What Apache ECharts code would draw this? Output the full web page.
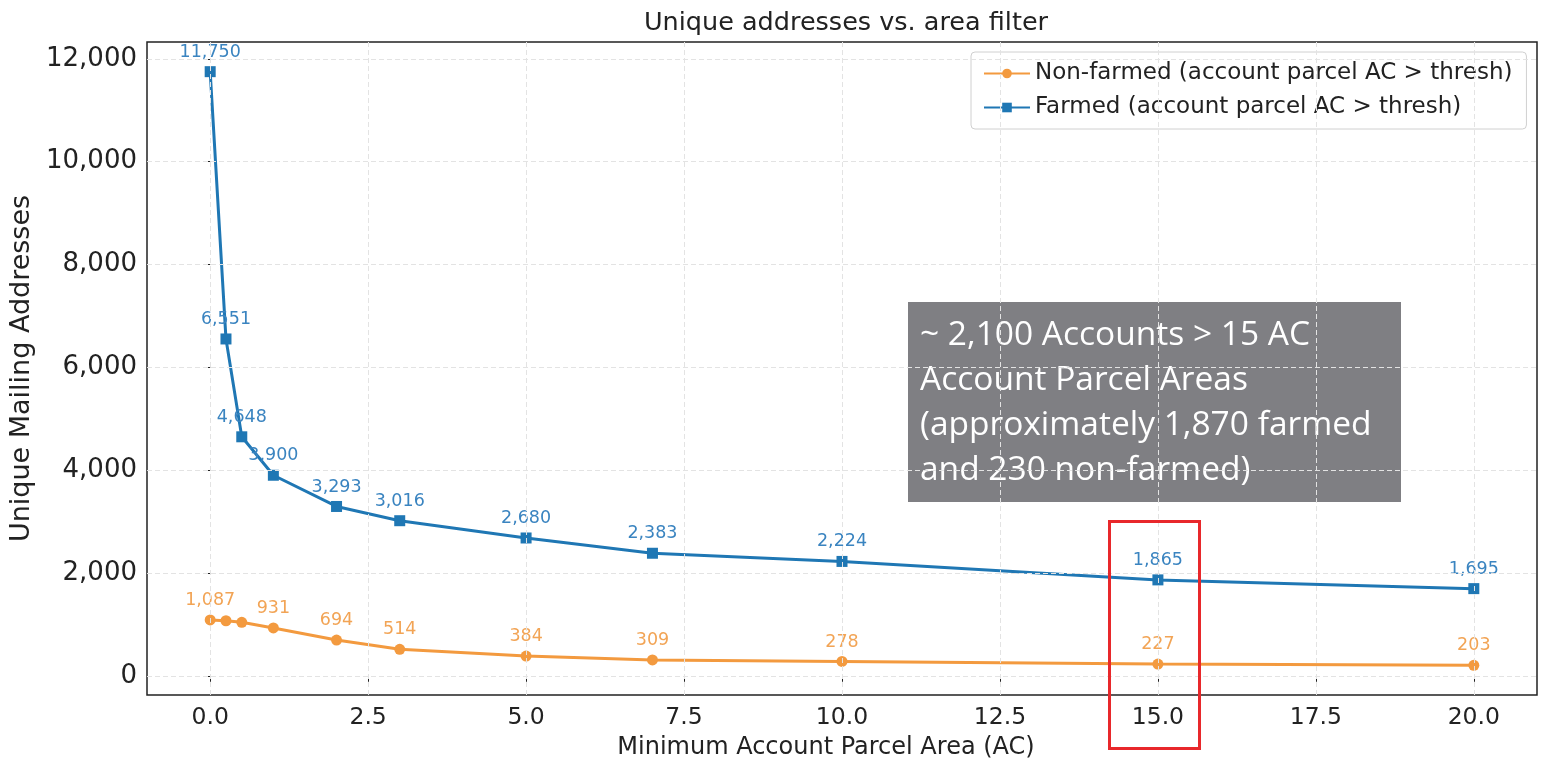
<!DOCTYPE html>
<html>
<head>
<meta charset="utf-8">
<title>Unique addresses vs. area filter</title>
<script src="https://cdn.jsdelivr.net/npm/echarts@6/dist/echarts.min.js"></script>
<style>
  html, body { margin: 0; padding: 0; background: #fff; }
  #chart { width: 1552px; height: 761px; }
</style>
</head>
<body>
<div id="chart"></div>
<script>
// data
const thresholds = [0, 0.25, 0.5, 1, 2, 3, 5, 7, 10, 15, 20]
const nonFarmed = [1087, 1070, 1040, 931, 694, 514, 384, 309, 278, 227, 203]
const farmed = [11750, 6551, 4648, 3900, 3293, 3016, 2680, 2383, 2224, 1865, 1695]
// points whose value label is not printed in the reference
const nonFarmedHiddenLabels = [0.25, 0.5]
const xTicks = [0, 2.5, 5, 7.5, 10, 12.5, 15, 17.5, 20]
const yTicks = [0, 2000, 4000, 6000, 8000, 10000, 12000]

const BLUE = '#1f77b4'
const ORANGE = '#f39a3f'
const FONT = 'DejaVu Sans'

const fmt = v => Math.round(v).toLocaleString('en-US')

const nonFarmedData = thresholds.map((x, i) => {
  const item = { value: [x, nonFarmed[i]] }
  if (nonFarmedHiddenLabels.includes(x)) item.label = { show: false }
  return item
})
const farmedData = thresholds.map((x, i) => [x, farmed[i]])

const option = {
  animation: false,
  backgroundColor: '#fff',
  title: {
    text: 'Unique addresses vs. area filter',
    left: 841,
    textAlign: 'center',
    top: 5,
    textStyle: { fontFamily: FONT, fontSize: 25.5, fontWeight: 'normal', color: '#222' },
  },
  grid: {
    left: 147,
    right: 15,
    top: 42,
    bottom: 66,
    outerBoundsMode: 'none',
    show: true,
    borderColor: '#222',
    borderWidth: 1.5,
    backgroundColor: 'transparent',
  },
  legend: {
    orient: 'vertical',
    left: 971,
    top: 52,
    width: 554,
    padding: [10, 14, 10, 12],
    itemGap: 11,
    itemWidth: 46,
    itemHeight: 12,
    backgroundColor: '#fff',
    borderColor: '#d0d0d0',
    borderWidth: 1,
    borderRadius: 4,
    textStyle: { fontFamily: FONT, fontSize: 23, color: '#222' },
    data: ['Non-farmed (account parcel AC > thresh)', 'Farmed (account parcel AC > thresh)'],
  },
  xAxis: {
    type: 'value',
    min: -1,
    max: 21,
    name: 'Minimum Account Parcel Area (AC)',
    nameLocation: 'middle',
    nameGap: 41,
    nameTextStyle: { fontFamily: FONT, fontSize: 24, color: '#222', padding: [0, 32, 0, 0] },
    axisLine: { show: false },
    axisTick: { show: true, length: 6, customValues: xTicks, lineStyle: { color: '#222' } },
    axisLabel: {
      customValues: xTicks,
      margin: 11,
      fontFamily: FONT,
      fontSize: 23.5,
      color: '#222',
      formatter: v => v.toFixed(1),
    },
    splitLine: { show: false },
  },
  yAxis: {
    type: 'value',
    min: -374,
    max: 12327,
    name: 'Unique Mailing Addresses',
    nameLocation: 'middle',
    nameGap: 103,
    nameTextStyle: { fontFamily: FONT, fontSize: 27, color: '#222' },
    axisLine: { show: false },
    axisTick: { show: true, length: 6, customValues: yTicks, lineStyle: { color: '#222' } },
    axisLabel: {
      customValues: yTicks,
      margin: 10,
      fontFamily: FONT,
      fontSize: 26,
      color: '#222',
      formatter: v => fmt(v),
    },
    splitLine: { show: false },
  },
  series: [
    {
      // grid lines drawn at the tick positions
      name: 'grid',
      type: 'line',
      data: [],
      silent: true,
      markLine: {
        silent: true,
        symbol: 'none',
        label: { show: false },
        lineStyle: { color: '#e3e3e3', type: [5, 3], width: 1 },
        data: xTicks.map(x => ({ xAxis: x })).concat(yTicks.map(y => ({ yAxis: y }))),
      },
    },
    {
      name: 'Non-farmed (account parcel AC > thresh)',
      type: 'line',
      data: nonFarmedData,
      color: ORANGE,
      symbol: 'circle',
      symbolSize: 11,
      lineStyle: { width: 3, color: ORANGE },
      itemStyle: { color: ORANGE },
      label: {
        show: true,
        position: 'top',
        distance: 5,
        fontFamily: FONT,
        fontSize: 17.5,
        color: '#f2a455',
        formatter: p => fmt(p.value[1]),
      },
      z: 3,
    },
    {
      name: 'Farmed (account parcel AC > thresh)',
      type: 'line',
      data: farmedData,
      color: BLUE,
      symbol: 'rect',
      symbolSize: 11,
      lineStyle: { width: 3, color: BLUE },
      itemStyle: { color: BLUE },
      label: {
        show: true,
        position: 'top',
        distance: 5,
        fontFamily: FONT,
        fontSize: 17.5,
        color: '#3a84c0',
        formatter: p => fmt(p.value[1]),
      },
      z: 4,
    },
  ],
  graphic: [
    {
      type: 'group',
      left: 908,
      top: 302,
      z: 100,
      children: [
        {
          type: 'rect',
          shape: { x: 0, y: 0, width: 493, height: 200 },
          style: { fill: '#7f7f83' },
        },
        {
          type: 'text',
          x: 12,
          y: 11,
          style: {
            text: '~ 2,100 Accounts > 15 AC\nAccount Parcel Areas\n(approximately 1,870 farmed\nand 230 non-farmed)',
            fill: '#fff',
            font: '33.5px "Open Sans"',
            lineHeight: 45,
          },
        },
      ],
    },
    {
      type: 'rect',
      left: 1107,
      top: 519,
      z: 100,
      shape: { x: 0, y: 0, width: 90, height: 227 },
      style: { fill: 'none', stroke: '#e8282b', lineWidth: 3 },
    },
  ],
}

const myChart = echarts.init(document.getElementById('chart'))
myChart.setOption(option)
</script>
</body>
</html>
